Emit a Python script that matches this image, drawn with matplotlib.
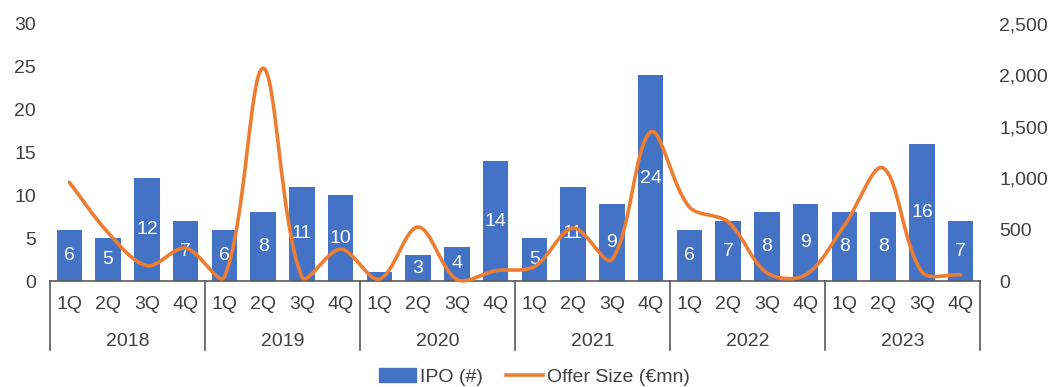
import numpy as np
import matplotlib
matplotlib.use('Agg')
import matplotlib.pyplot as plt
from matplotlib.path import Path
from matplotlib.patches import PathPatch, Patch
from matplotlib.lines import Line2D
from matplotlib.ticker import FuncFormatter

plt.rcParams['font.family'] = ['Liberation Sans', 'DejaVu Sans']

years = ['2018', '2019', '2020', '2021', '2022', '2023']
quarters = ['1Q', '2Q', '3Q', '4Q']
ipo_count = [6, 5, 12, 7, 6, 8, 11, 10, 1, 3, 4, 14,
             5, 11, 9, 24, 6, 7, 8, 9, 8, 8, 16, 7]
offer_size = [960, 470, 150, 320, 40, 2070, 40, 310, 20, 525, 15, 100,
              140, 515, 210, 1450, 720, 575, 80, 60, 540, 1100, 90, 60]

blue = '#4472C4'
orange = '#ED7D31'
txt = '#404040'

fig = plt.figure(figsize=(10.51, 3.87), dpi=100)
ax = fig.add_axes([50 / 1051, 1 - 281 / 387, 930 / 1051, 257 / 387])
ax2 = ax.twinx()

n = len(ipo_count)
x = np.arange(n)
bars = ax.bar(x, ipo_count, width=0.66, color=blue, zorder=2)
labels = [str(v) if v > 1 else '' for v in ipo_count]
ax.bar_label(bars, labels=labels, label_type='center', color='white', fontsize=14)

ax.set_xlim(-0.5, n - 0.5)
ax.set_ylim(0, 30)
ax2.set_ylim(0, 2500)

# smoothed line, bezier with distance-weighted tangents (measured in pixels)
sx, sy = 930 / n, 257 / 2500
pts = np.column_stack([x, offer_size]).astype(float)
scale = np.array([sx, sy])


def dist(a, b):
    return np.hypot(*((b - a) * scale))


verts = [tuple(pts[0])]
codes = [Path.MOVETO]
for i in range(n - 1):
    p0 = pts[max(i - 1, 0)]
    p1 = pts[i]
    p2 = pts[i + 1]
    p3 = pts[min(i + 2, n - 1)]
    d01, d12, d23 = dist(p0, p1), dist(p1, p2), dist(p2, p3)
    c1 = p1 + (p2 - p0) * d12 / (d01 + d12) / 3
    c2 = p2 - (p3 - p1) * d12 / (d12 + d23) / 3
    verts += [tuple(c1), tuple(c2), tuple(p2)]
    codes += [Path.CURVE4] * 3
ax2.add_patch(PathPatch(Path(verts, codes), fill=False, ec=orange, lw=2.6,
                        capstyle='round', joinstyle='round', zorder=3,
                        clip_on=False))

ax.set_yticks(range(0, 31, 5))
ax2.set_yticks(range(0, 2501, 500))
ax2.yaxis.set_major_formatter(FuncFormatter(lambda v, p: f'{int(v):,}'))

for a in (ax, ax2):
    for s in a.spines.values():
        s.set_visible(False)
    a.tick_params(axis='y', length=0, labelsize=14, labelcolor=txt)
ax.tick_params(axis='y', pad=10)
ax2.tick_params(axis='y', pad=14)

ax.spines['bottom'].set_visible(True)
ax.spines['bottom'].set_color('#595959')
ax.spines['bottom'].set_linewidth(1.2)
ax.set_xticks(x)
ax.set_xticklabels(quarters * len(years))
ax.tick_params(axis='x', length=0, labelsize=14, labelcolor=txt, pad=11)

trans = ax.get_xaxis_transform()
sep_bottom = -(350 - 281) / 257
for k in range(len(years) + 1):
    xb = k * 4 - 0.5
    ax.add_line(Line2D([xb, xb], [0, sep_bottom], transform=trans,
                       color='#595959', lw=1.2, clip_on=False))
for k, yr in enumerate(years):
    ax.text(k * 4 + 1.5, -(341 - 281) / 257, yr, transform=trans,
            ha='center', va='center', fontsize=14, color=txt)

handles = [Patch(color=blue, label='IPO (#)'),
           Line2D([], [], color=orange, lw=2.6, label='Offer Size (€mn)')]
fig.legend(handles=handles, loc='center', bbox_to_anchor=(0.5086, 1 - 377 / 387),
           ncol=2, frameon=False, fontsize=14, handlelength=1.9,
           handletextpad=0.2, columnspacing=1.2, labelcolor=txt)

fig.savefig('out.png', dpi=100)
